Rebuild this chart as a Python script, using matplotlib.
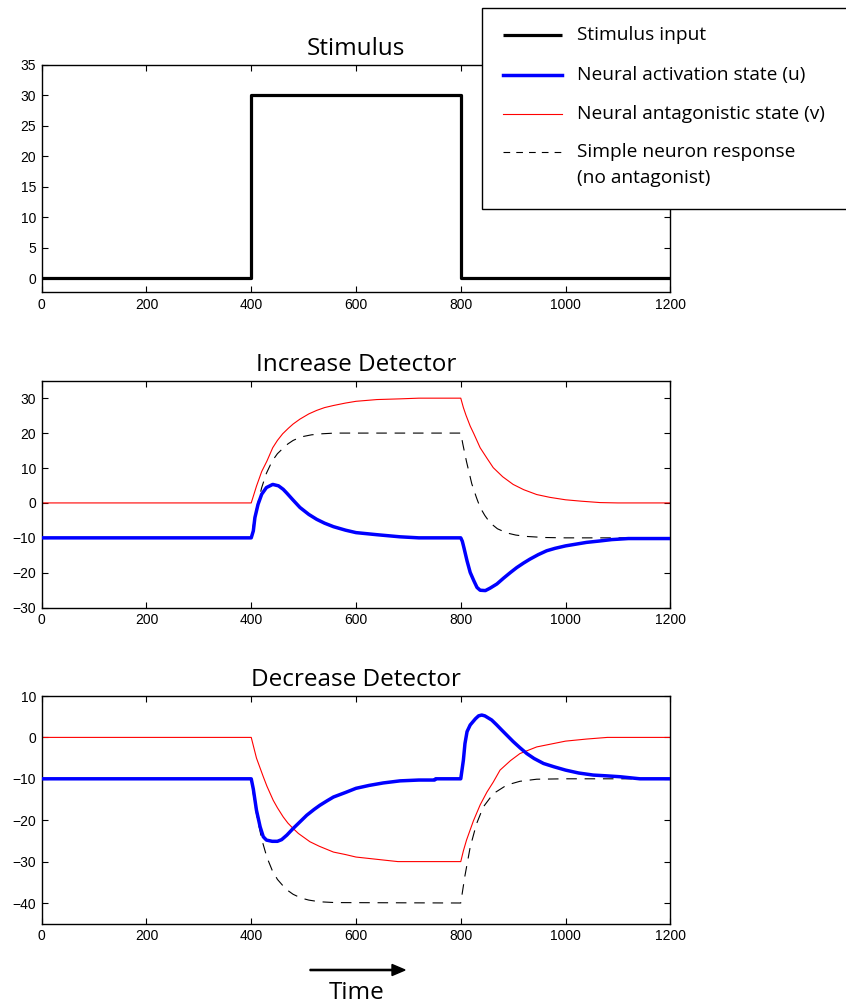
import matplotlib
matplotlib.use("Agg")
import matplotlib.pyplot as plt
from matplotlib.lines import Line2D
from matplotlib.patches import Rectangle, FancyArrow

plt.rcParams['font.family'] = ['Liberation Sans', 'DejaVu Sans']

# ---------------- data ----------------
# stimulus input
stim_t = [0, 400, 400, 800, 800, 1200]
stim_val = [0, 0, 30, 30, 0, 0]

# increase detector: antagonistic state v
inc_v_t = [0, 400, 410, 420, 430, 441, 450, 460, 471, 480, 493, 510, 525, 540, 557,
           580, 600, 640, 684, 720, 800, 805, 810, 818, 825, 837, 850, 862, 880, 900,
           920, 945, 970, 1000, 1030, 1066, 1100, 1200]
inc_v = [0, 0, 4.8, 9.0, 12.0, 15.8, 17.9, 19.8, 21.4, 22.6, 24.0, 25.5, 26.5, 27.3, 27.9,
         28.6, 29.1, 29.6, 29.8, 30, 30, 27.3, 25.1, 22.0, 19.8, 15.8, 12.8, 10.1, 7.5, 5.3,
         3.8, 2.4, 1.6, 0.9, 0.5, 0.1, 0, 0]

# increase detector: simple neuron (no antagonist)
inc_s_t = [0, 400, 405, 410, 420, 429, 440, 450, 461, 470, 480, 495, 515, 535, 560,
           800, 804, 811, 821, 830, 837, 846, 856, 870, 888, 905, 926, 960, 1000, 1200]
inc_s = [-10, -10, -5.4, -1.6, 4.4, 8.5, 12.0, 14.1, 15.7, 16.9, 17.9, 18.9, 19.5, 19.8, 20,
         20, 16.8, 11.8, 5.5, 1.5, -1.3, -3.6, -5.7, -7.4, -8.6, -9.2, -9.6, -9.9, -10, -10]

# increase detector: activation state u
inc_u_t = [0, 400, 404, 407, 413, 420, 429, 441, 452, 461, 468, 480, 493, 510, 525, 540,
           557, 580, 600, 640, 684, 720, 800, 803, 806, 812, 818, 825, 831, 837, 847, 856,
           869, 882, 895, 907, 920, 932, 948, 964, 980, 1000, 1020, 1040, 1065, 1088, 1120,
           1200]
inc_u = [-10, -10, -8.0, -4.2, -0.4, 2.5, 4.4, 5.3, 4.9, 3.9, 2.8, 0.8, -1.3, -3.3, -4.7, -5.8,
         -6.8, -7.8, -8.5, -9.1, -9.7, -10, -10, -11.0, -12.8, -16.6, -19.9, -22.3, -24.2, -25.0,
         -25.1, -24.4, -23.2, -21.5, -19.9, -18.5, -17.2, -16.1, -14.8, -13.7, -13.0, -12.3,
         -11.8, -11.3, -10.9, -10.5, -10.2, -10.2]

# decrease detector: antagonistic state v
dec_v_t = [0, 400, 410, 423, 430, 442, 450, 461, 470, 480, 490, 512, 530, 557, 580, 600,
           658, 680, 800, 805, 811, 824, 837, 850, 862, 875, 895, 913, 945, 1000, 1040,
           1080, 1200]
dec_v = [0, 0, -5.0, -9.5, -11.8, -15.2, -17.0, -19.2, -20.7, -22.0, -23.2, -25.2, -26.3,
         -27.7, -28.3, -28.9, -29.7, -30, -30, -27.4, -24.8, -20.2, -16.3, -13.2, -10.8, -7.9,
         -5.6, -3.9, -2.3, -0.9, -0.4, 0, 0]

# decrease detector: simple neuron (no antagonist)
dec_s_t = [0, 400, 405, 410, 420, 430, 440, 450, 461, 470, 480, 495, 510, 530, 560,
           800, 802, 808, 818, 830, 843, 862, 888, 913, 945, 1000, 1200]
dec_s = [-10, -10, -14.6, -18.5, -24.6, -29.0, -32.1, -34.3, -35.9, -37.0, -37.9, -38.8,
         -39.3, -39.7, -39.9, -40, -38.3, -33.4, -26.5, -20.9, -16.8, -13.6, -11.5, -10.6,
         -10.1, -10, -10]

# decrease detector: activation state u
dec_u_t = [0, 400, 404, 410, 417, 423, 429, 440, 450, 458, 468, 480, 493, 506, 520, 531,
           545, 557, 580, 600, 625, 652, 684, 720, 750, 752, 800, 805, 808, 812, 818, 828,
           834, 840, 846, 859, 868, 878, 889, 900, 913, 926, 940, 958, 978, 1000, 1025,
           1053, 1080, 1104, 1142, 1200]
dec_u = [-10, -10, -12.5, -17.6, -21.6, -24.0, -24.8, -25.1, -25.1, -24.7, -23.6, -22.0,
         -20.4, -18.8, -17.4, -16.4, -15.3, -14.4, -13.3, -12.3, -11.6, -11.0, -10.5, -10.3,
         -10.3, -10, -10, -5.5, -1.5, 1.4, 3.0, 4.5, 5.2, 5.4, 5.2, 4.2, 3.1, 1.8, 0.4, -1.0,
         -2.5, -3.9, -5.1, -6.3, -7.1, -7.9, -8.6, -9.1, -9.3, -9.5, -10, -10]

titles = ["Stimulus", "Increase Detector", "Decrease Detector"]
legend_labels = ["Stimulus input", "Neural activation state (u)",
                 "Neural antagonistic state (v)", "Simple neuron response", "(no antagonist)"]
xticks = [0, 200, 400, 600, 800, 1000, 1200]

# ---------------- styles ----------------
W, H = 846, 1007
stim_style = dict(color='black', lw=2.3, solid_capstyle='butt')
u_style = dict(color=(0, 0, 1), lw=2.5, solid_joinstyle='round')
v_style = dict(color=(1, 0, 0), lw=0.8)
s_style = dict(color='black', lw=0.8, linestyle=(0, (9.5, 7)))
title_font = dict(family=['Open Sans', 'DejaVu Sans'], fontsize=17.5)
legend_font = dict(family=['Open Sans', 'DejaVu Sans'], fontsize=13.8)

fig = plt.figure(figsize=(W / 100, H / 100), dpi=100)


def px_axes(top, bottom, left=41.7, right=670.3):
    return [left / W, 1 - bottom / H, (right - left) / W, (bottom - top) / H]


ax1 = fig.add_axes(px_axes(64.7, 292.3))
ax2 = fig.add_axes(px_axes(380.7, 607.7))
ax3 = fig.add_axes(px_axes(696.0, 923.7))

ax1.plot(stim_t, stim_val, **stim_style)

ax2.plot(inc_v_t, inc_v, **v_style, zorder=2)
ax2.plot(inc_s_t, inc_s, **s_style, zorder=3)
ax2.plot(inc_u_t, inc_u, **u_style, zorder=4)

ax3.plot(dec_v_t, dec_v, **v_style, zorder=2)
ax3.plot(dec_s_t, dec_s, **s_style, zorder=3)
ax3.plot(dec_u_t, dec_u, **u_style, zorder=4)

ax1.set_ylim(-2.3, 35)
ax1.set_yticks(range(0, 36, 5))
ax2.set_ylim(-30, 35)
ax2.set_yticks(range(-30, 31, 10))
ax3.set_ylim(-45, 10)
ax3.set_yticks(range(-40, 11, 10))

for ax, title in zip([ax1, ax2, ax3], titles):
    ax.set_xlim(0, 1200)
    ax.set_xticks(xticks)
    ax.tick_params(direction='in', top=True, right=True, length=4.5, width=0.8,
                   labelsize=10, pad=4)
    for sp in ax.spines.values():
        sp.set_linewidth(1.0)
    ax.set_title(title, pad=7, **title_font)

# ---------------- legend box ----------------
fig.patches.append(Rectangle((481.7 / W, 1 - 209.3 / H), (870 - 481.7) / W, (209.3 - 8.3) / H,
                             transform=fig.transFigure, facecolor='white',
                             edgecolor='black', lw=1.0, zorder=10))

rows = [35, 75, 114, 152]
styles = [stim_style, u_style, v_style, dict(color='black', lw=0.8, linestyle=(0, (6, 5.5)))]
for y, st in zip(rows, styles):
    fig.add_artist(Line2D([502.7 / W, 562.3 / W], [1 - y / H, 1 - y / H],
                          transform=fig.transFigure, zorder=11, **st))
for y, lab in zip(rows + [178], legend_labels):
    fig.text(576.7 / W, 1 - y / H, lab, va='center', ha='left', zorder=12, **legend_font)

# ---------------- time arrow ----------------
fig.add_artist(FancyArrow(310 / W, 1 - 970 / H, 82 / W, 0, width=0.0012,
                          head_width=0.011, head_length=13 / W,
                          length_includes_head=False, color='black',
                          transform=fig.transFigure))
fig.text(357 / W, 1 - 993 / H, "Time", ha='center', va='center', **title_font)

fig.savefig("out.png", dpi=100)
